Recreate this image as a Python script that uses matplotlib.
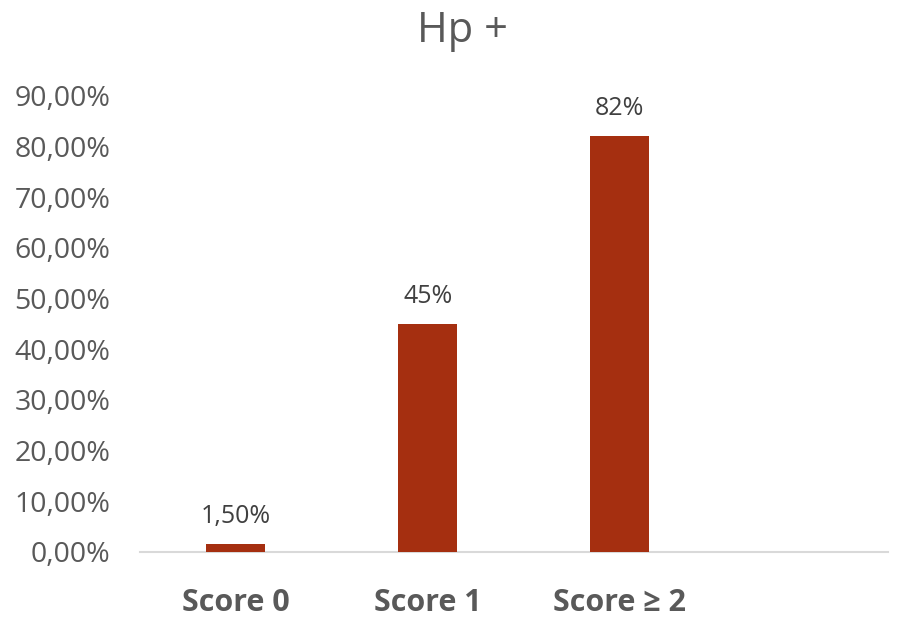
import matplotlib
matplotlib.use("Agg", force=True)
import matplotlib.pyplot as plt
from matplotlib.ticker import FuncFormatter

# Chart data
categories = ["Score 0", "Score 1", "Score \u2265 2"]
values = [0.015, 0.45, 0.82]
bar_labels = ["1,50%", "45%", "82%"]
title = "Hp +"

BAR_COLOR = "#A52F10"
TEXT_COLOR = "#595959"

plt.rcParams["font.family"] = ["Open Sans", "DejaVu Sans"]

fig = plt.figure(figsize=(9.01, 6.18), dpi=100)
ax = fig.add_axes([0.155, 0.107, 0.831, 0.738])

x = list(range(len(categories)))
bars = ax.bar(x, values, width=0.31, color=BAR_COLOR, zorder=3)

for rect, lab in zip(bars, bar_labels):
    ax.annotate(lab, (rect.get_x() + rect.get_width() / 2, rect.get_height()),
                xytext=(0, 11), textcoords="offset points",
                ha="center", va="bottom", fontsize=18, color="#404040")

ax.set_xlim(-0.5, 3.4)
ax.set_ylim(0, 0.9)
ax.set_yticks([i / 10 for i in range(10)])
ax.yaxis.set_major_formatter(FuncFormatter(lambda v, p: f"{v * 100:.2f}%".replace(".", ",")))
ax.set_xticks(x)
ax.set_xticklabels(categories, fontsize=22, fontweight="bold", color=TEXT_COLOR)

for s in ["top", "right", "left"]:
    ax.spines[s].set_visible(False)
ax.spines["bottom"].set_color("#D9D9D9")
ax.spines["bottom"].set_linewidth(1.5)
ax.tick_params(axis="both", length=0)
ax.tick_params(axis="y", labelsize=20.5, labelcolor=TEXT_COLOR, pad=21)
ax.tick_params(axis="x", pad=26)

fig.text(0.513, 0.95, title, ha="center", va="center", fontsize=30, color=TEXT_COLOR)

fig.savefig("out.png", dpi=100)
